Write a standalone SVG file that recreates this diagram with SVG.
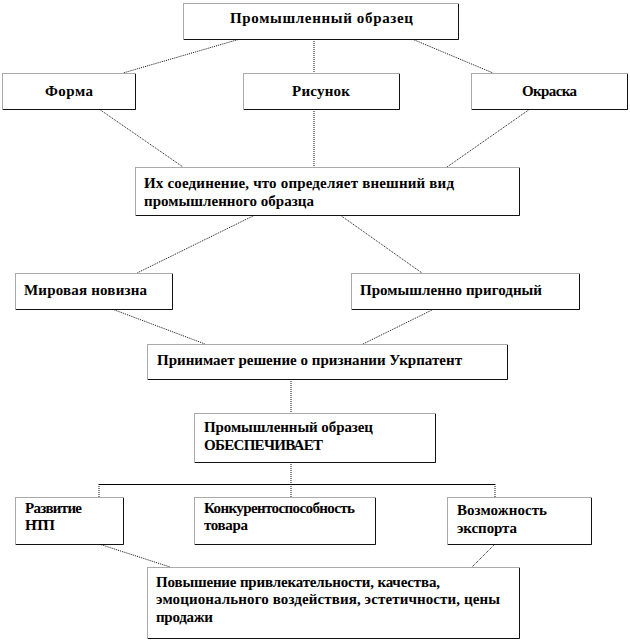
<svg xmlns="http://www.w3.org/2000/svg" width="630" height="642" viewBox="0 0 630 642">
<style>
.box rect{fill:#fff;stroke:#555;stroke-width:1;stroke-dasharray:1 1}
.box path{fill:none;stroke:#111;stroke-width:1}
.c line{stroke:#111;stroke-width:1;stroke-dasharray:1 1}
.c line.solid{stroke:#000;stroke-dasharray:none}
</style>
<rect width="630" height="642" fill="#fff"/>
<g class="c">
<line x1="240" y1="39" x2="123" y2="73"/>
<line x1="314" y1="39" x2="314" y2="73"/>
<line x1="412" y1="39" x2="493" y2="73"/>
<line x1="99" y1="109" x2="183" y2="167"/>
<line x1="314" y1="109" x2="314" y2="167"/>
<line x1="530" y1="109" x2="447" y2="167"/>
<line x1="255" y1="215" x2="137" y2="273"/>
<line x1="340" y1="215" x2="422" y2="273"/>
<line x1="112" y1="309" x2="205" y2="344"/>
<line x1="434" y1="309" x2="363" y2="344"/>
<line x1="291" y1="379" x2="291" y2="413"/>
<line x1="291" y1="462" x2="291" y2="484"/>
<line class="solid" x1="99" y1="484.5" x2="495" y2="484.5"/>
<line x1="99" y1="484" x2="99" y2="497"/>
<line x1="291" y1="484" x2="291" y2="497"/>
<line x1="495" y1="484" x2="495" y2="497"/>
<line x1="99" y1="544" x2="170" y2="567"/>
<line x1="495" y1="544" x2="472" y2="567"/>
</g>
<g font-family="Liberation Serif" font-weight="bold" font-size="15" fill="#000">
<g id="n-top" class="box"><rect x="183.5" y="3.5" width="275" height="36"/><path d="M458.5 4V39.5H184"/><text x="230" y="23" textLength="183">Промышленный  образец</text></g>
<g id="n-forma" class="box"><rect x="2.5" y="73.5" width="133" height="36"/><path d="M135.5 74V109.5H3"/><text x="45" y="96" textLength="48">Форма</text></g>
<g id="n-risunok" class="box"><rect x="243.5" y="73.5" width="156" height="36"/><path d="M399.5 74V109.5H244"/><text x="292" y="96" textLength="58">Рисунок</text></g>
<g id="n-okraska" class="box"><rect x="471.5" y="73.5" width="156" height="36"/><path d="M627.5 74V109.5H472"/><text x="522" y="96" textLength="55">Окраска</text></g>
<g id="n-soed" class="box"><rect x="135.5" y="167.5" width="384" height="48"/><path d="M519.5 168V215.5H136"/><text x="144" y="188" textLength="310">Их  соединение, что определяет внешний вид</text><text x="144" y="206" textLength="170">промышленного образца</text></g>
<g id="n-mir" class="box"><rect x="15.5" y="273.5" width="157" height="36"/><path d="M172.5 274V309.5H16"/><text x="24" y="295" textLength="123">Мировая новизна</text></g>
<g id="n-prig" class="box"><rect x="351.5" y="273.5" width="228" height="36"/><path d="M579.5 274V309.5H352"/><text x="360" y="295" textLength="182">Промышленно пригодный</text></g>
<g id="n-prin" class="box"><rect x="147.5" y="344.5" width="360" height="35"/><path d="M507.5 345V379.5H148"/><text x="157" y="365" textLength="305">Принимает решение о признании Укрпатент</text></g>
<g id="n-obesp" class="box"><rect x="194.5" y="413.5" width="241" height="49"/><path d="M435.5 414V462.5H195"/><text x="204" y="432" textLength="169">Промышленный образец</text><text x="204" y="450" textLength="119">ОБЕСПЕЧИВАЕТ</text></g>
<g id="n-razv" class="box"><rect x="15.5" y="497.5" width="108" height="47"/><path d="M123.5 498V544.5H16"/><text x="25" y="513" textLength="57">Развитие</text><text x="25" y="530" textLength="30">НТП</text></g>
<g id="n-konk" class="box"><rect x="194.5" y="497.5" width="181" height="47"/><path d="M375.5 498V544.5H195"/><text x="204" y="513" textLength="151">Конкурентоспособность</text><text x="204" y="530" textLength="44">товара</text></g>
<g id="n-vozm" class="box"><rect x="447.5" y="497.5" width="144" height="47"/><path d="M591.5 498V544.5H448"/><text x="457" y="515" textLength="90">Возможность</text><text x="457" y="533" textLength="60">экспорта</text></g>
<g id="n-povysh" class="box"><rect x="147.5" y="567.5" width="372" height="71"/><path d="M519.5 568V638.5H148"/><text x="156" y="587" textLength="284">Повышение привлекательности, качества,</text><text x="156" y="604" textLength="344">эмоционального воздействия, эстетичности, цены</text><text x="156" y="622" textLength="57">продажи</text></g>
</g>
</svg>
